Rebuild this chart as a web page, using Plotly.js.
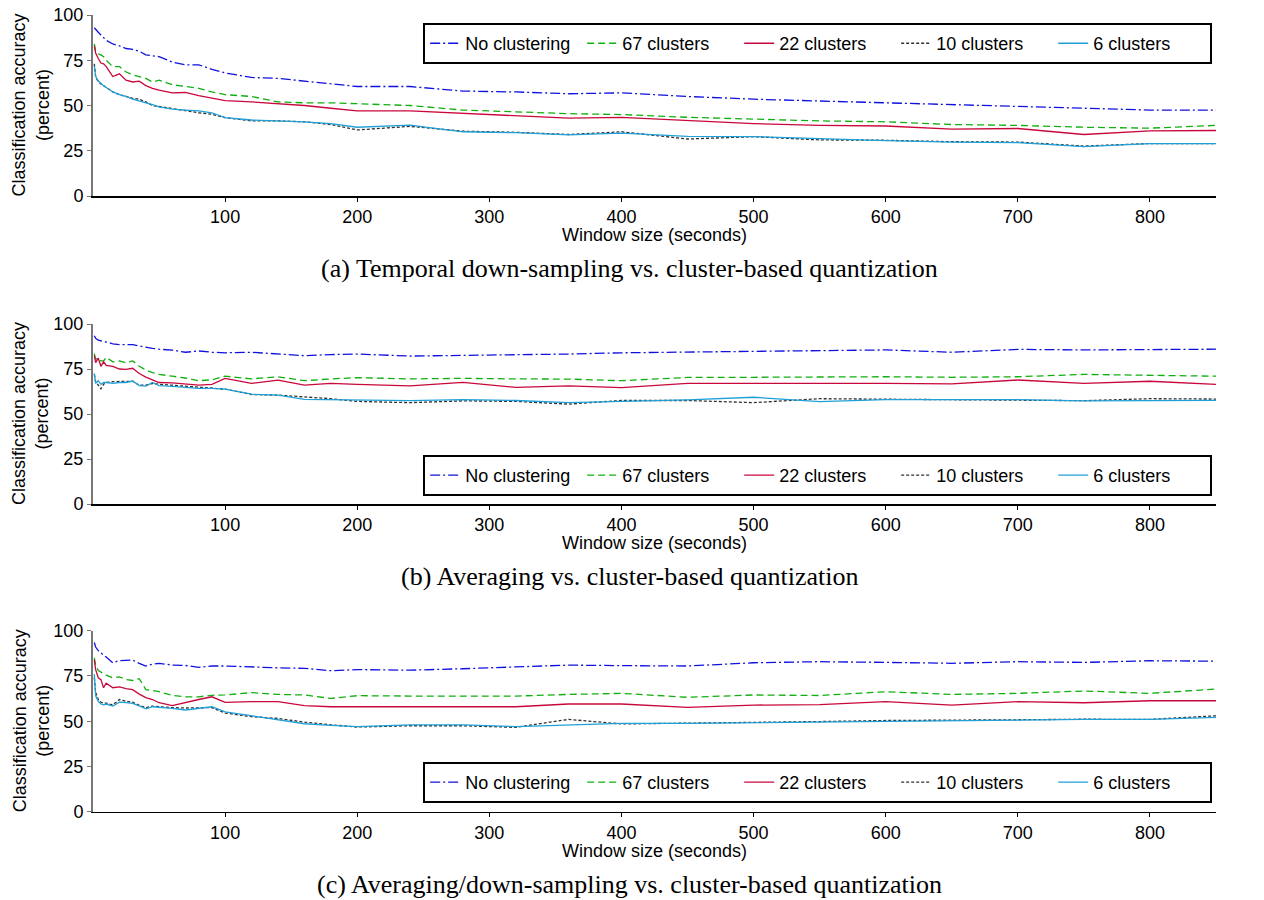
<!DOCTYPE html>
<html><head><meta charset="utf-8">
<script src="https://cdn.plot.ly/plotly-3.0.1.min.js"></script>
<style>body{margin:0;background:#fff}#chart{width:1264px;height:900px}</style>
</head><body><div id="chart"></div>
<script>
// Window sizes (seconds)
const windowSizes = [1,2,4,6,8,10,15,20,25,30,35,40,45,50,60,70,80,90,100,120,140,160,180,200,240,280,320,360,400,450,500,550,600,650,700,750,800,850];
const seriesNames = ["No clustering","67 clusters","22 clusters","10 clusters","6 clusters"];

// (a) Temporal down-sampling
const noClustA = [93,92,90.5,89,87.5,86,84,83,81.5,81,80,78,77.5,77,74,72.5,72.5,70,68,65.5,65,63.5,62,60.5,60.5,58,57.5,56.5,57,55,53.5,52.5,51.5,50.5,49.5,48.5,47.5,47.5];
const c67A = [84,80,78.5,78,77,75,71.5,71.5,68.5,67,66,65,63,64,61.5,60.5,59.5,57.5,56,55,52,51.5,51.5,51,50,47.5,46.5,45.5,45,43.5,42.5,41.5,41,39.5,39,38,37.5,39];
const c22A = [83,79,76,73.5,73,71.5,66,67.5,64,63,63.5,61,59.5,58.5,57,57.2,55.5,54,52.7,52,51,50,48.5,47,47,45.7,44.5,43,43.4,41.5,40,39,38.7,37,37.3,34,36,36.2];
const c10A = [73,66,63,62,61,60,57.5,56,55,54,53.5,52,50,49.5,48.5,47.2,46,45.2,43.3,41.5,41.5,41,39.5,36.5,38.5,35.8,35.2,34,35.5,31.5,32.8,31,30.8,30,29.8,27.6,29,29];
const c6A = [72,66,63.5,62,61,60,57.5,56,55,53.5,52.5,51.8,50.5,49.3,48,47.5,47,46,43.3,42,41.7,41,40,38,39.2,35.5,35,33.8,34.8,33,32.8,31.5,30.6,29.8,29.5,27.3,29,29];

// (b) Averaging
const noClustB = [93.5,92,91,90.5,90.2,90,89,88.5,88.5,88.5,87.8,87,86.5,86,85.5,84.3,85,84.3,84,84.3,83.3,82.4,83,83.3,82.2,82.5,83,83.3,84,84.5,85,85.3,85.6,84.3,85.9,85.6,85.6,86];
const c67B = [83.5,80.5,81,79.5,79.5,81.5,79,79.5,78.5,79.5,76.5,74.5,73,72,71,70,68.5,69,71,69.5,70.7,68.5,69.5,70.2,69.5,69.8,69.5,69.4,68.5,70.3,70.4,70.6,70.7,70.4,70.7,72,71.3,71];
const c22B = [82.5,78.5,81,76.5,79,77,76.5,75,74.8,75.4,72.5,70.5,69,67.5,67.3,66.5,66,66.5,69.8,67,68.8,66,67,66.5,65.6,67.6,64.8,65.6,64.6,67,67,67.3,67,66.7,68.9,67,68.2,66.5];
const c10B = [72,68,66,64,66.5,67.5,68,68,68,68.2,66,66,67,66.5,66,65.5,65,64.5,63.8,60.8,60.5,59.5,58.5,57,56.3,57.3,57,55.5,57.5,57.5,56.3,58.5,58.3,57.8,57.8,57.4,58.5,58.3];
const c6B = [72.5,67,68.5,66.5,67.5,67.5,67,67.5,67.5,68.3,65.8,65.5,67.5,65.8,65.3,64.8,64.2,64.2,63.8,61,60.5,58.1,58,57.8,57.4,58,57.5,56.3,56.9,57.8,59.3,56.9,58,58,58,57.3,57.6,57.6];

// (c) Averaging/down-sampling
const noClustC = [93.5,91,89,87.5,86.5,85.5,82.3,83.5,83.8,83.8,82,80.5,81.5,82,81,80.8,79.8,80.5,80.5,79.8,79.5,79.2,77.9,78.5,78.2,79,79.8,81,80.7,80.5,82.3,82.9,82.5,82,82.9,82.5,83.4,83.2];
const c67C = [85,81,78,77,76.5,75.5,74,74.5,73,72.5,73.5,67.5,67,66.3,64.2,63.5,63.5,64.3,64.5,65.8,64.8,64.5,62.6,64.1,63.9,63.9,63.9,64.8,65.4,63.2,64.5,64.2,66.3,64.8,65.4,66.7,65.4,67.8];
const c22C = [84,78.5,74,73,68.5,71,68.5,69,68,67.4,65,63,62,60.2,58.6,60.5,62,63.5,60.4,60.8,60.8,58.6,58,58,58,58,58,59.5,59.5,57.7,58.9,59.2,60.8,58.9,60.8,60.2,61.3,61.3];
const c10C = [74,66,62,60.5,60,60,59,62,61,60.5,58.8,57.5,58.3,58,57.5,57.3,57.5,57.5,54.5,52.5,51.5,49.5,48,46.8,47.5,47.5,46.6,51,48.5,48.8,49.2,49.8,50.4,50.8,50.8,51.1,51,53];
const c6C = [76,64,61,59.5,59,59.5,58.4,60.5,60.3,59.9,58.5,56.8,58,57.8,57.1,56.2,57,58,55.2,53,50.9,48.6,47.7,47,48,48,47,48,48.8,48.8,49.2,49.5,49.7,50.5,50.7,51,51,52.1];

const captions = ["(a) Temporal down-sampling vs. cluster-based quantization",
                  "(b) Averaging vs. cluster-based quantization",
                  "(c) Averaging/down-sampling vs. cluster-based quantization"];
const xTickVals = [100,200,300,400,500,600,700,800];
const yTickVals = [0,25,50,75,100];

const panels = [
  [noClustA,c67A,c22A,c10A,c6A],
  [noClustB,c67B,c22B,c10B,c6B],
  [noClustC,c67C,c22C,c10C,c6C]
];
const styles = [
  {color:'#1010e0', dash:'10px,3px,2px,3px'},
  {color:'#10b010', dash:'7px,4px'},
  {color:'#c8083c', dash:'solid'},
  {color:'#303030', dash:'3px,2px'},
  {color:'#20a0d8', dash:'solid'}
];
const domains = [[0.7822,0.9833],[0.44,0.64],[0.0981,0.2992]];
const legendY = [{y:0.9744, yanchor:'top'},{y:0.449, yanchor:'bottom'},{y:0.1078, yanchor:'bottom'}];
const xTitleY = [0.739, 0.397, 0.0547];
const captionY = [0.7022, 0.3589, 0.0167];

const FONT = 'Liberation Sans, Arial, Helvetica, sans-serif';
const traces = [];
const layout = {
  width:1264, height:900,
  margin:{l:93, r:48, t:0, b:0},
  paper_bgcolor:'#fff', plot_bgcolor:'#fff',
  font:{family:FONT, size:18, color:'#000'},
  annotations:[]
};

panels.forEach((ser, p) => {
  const xs = p===0 ? 'x' : 'x'+(p+1);
  const ys = p===0 ? 'y' : 'y'+(p+1);
  const lg = p===0 ? 'legend' : 'legend'+(p+1);
  ser.forEach((vals, i) => {
    traces.push({
      x: windowSizes, y: vals, xaxis: xs, yaxis: ys, legend: lg,
      type:'scatter', mode:'lines', name: seriesNames[i],
      line:{color:styles[i].color, dash:styles[i].dash, width:1.3}
    });
  });
  const xk = p===0 ? 'xaxis' : 'xaxis'+(p+1);
  const yk = p===0 ? 'yaxis' : 'yaxis'+(p+1);
  layout[xk] = {
    domain:[0,1], anchor: ys, range:[0,850], tickvals:xTickVals,
    ticks:'outside', ticklen:4, tickcolor:'#000', showgrid:false, zeroline:false,
    showline:true, linecolor:'#000', linewidth:1.5, tickfont:{size:18}
  };
  layout[yk] = {
    domain:domains[p], anchor: xs, range:[0,100], tickvals:yTickVals,
    ticks:'outside', ticklen:4, tickcolor:'#777', showgrid:false, zeroline:false,
    showline:true, linecolor:'#777', linewidth:2, tickfont:{size:18}
  };
  const rk = 'yaxis'+(p+4);
  layout[rk] = {
    overlaying: ys, side:'right', anchor: xs, range:[0,100], tickvals:yTickVals,
    ticks:'outside', ticklen:4, tickcolor:'#000', showgrid:false, zeroline:false,
    showline:true, linecolor:'#000', linewidth:1, tickfont:{size:18}
  };
  layout[lg] = {
    orientation:'h', x:0.294, xanchor:'left', y:legendY[p].y, yanchor:legendY[p].yanchor,
    bordercolor:'#000', borderwidth:2, bgcolor:'#fff', entrywidth:112,
    font:{size:18, family:FONT}, tracegroupgap:0
  };
  const mid = (domains[p][0]+domains[p][1])/2;
  layout.annotations.push({
    xref:'paper', yref:'paper', x:-0.0552, y:mid, xanchor:'center', yanchor:'middle',
    text:'Classification accuracy<br>(percent)', textangle:-90, showarrow:false,
    font:{size:18, family:FONT}
  });
  layout.annotations.push({
    xref:'paper', yref:'paper', x:0.5, y:xTitleY[p], xanchor:'center', yanchor:'middle',
    text:'Window size (seconds)', showarrow:false, font:{size:18, family:FONT}
  });
  layout.annotations.push({
    xref:'paper', yref:'paper', x:0.478, y:captionY[p], xanchor:'center', yanchor:'middle',
    text:captions[p], showarrow:false, font:{size:26, family:'Liberation Serif, Times New Roman, serif'}
  });
});

Plotly.newPlot('chart', traces, layout, {displayModeBar:false, staticPlot:true});
</script>
</body></html>
